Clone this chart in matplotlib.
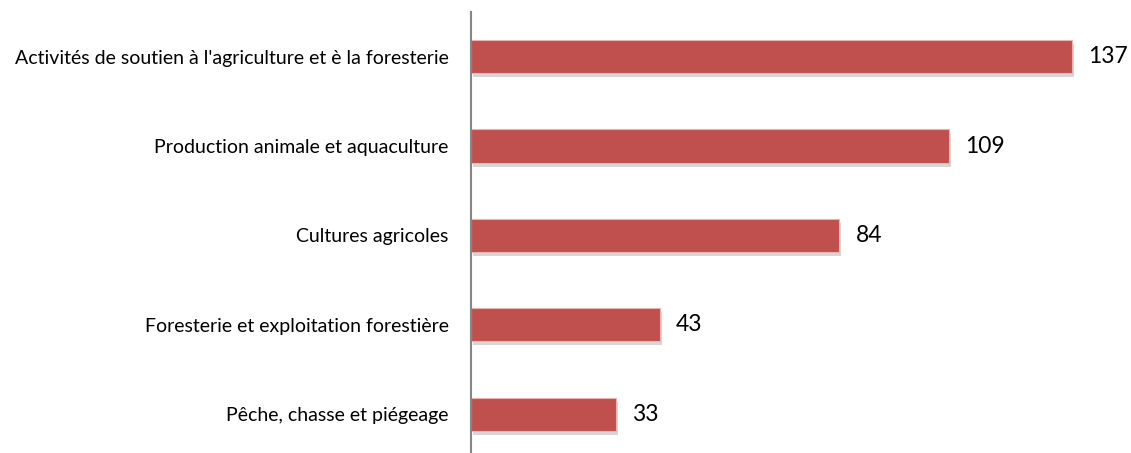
import matplotlib.pyplot as plt
import matplotlib.patheffects as pe

# Data
categories = [
    "Activités de soutien à l'agriculture et è la foresterie",
    "Production animale et aquaculture",
    "Cultures agricoles",
    "Foresterie et exploitation forestière",
    "Pêche, chasse et piégeage",
]
values = [137, 109, 84, 43, 33]

bar_color = '#C0504D'

fig = plt.figure(figsize=(11.31, 4.53), dpi=100)
ax = fig.add_axes([0.4164, 0.0, 0.5816, 0.9735])

pos = list(range(len(categories)))
bars = ax.barh(pos, values, height=0.37, color=bar_color,
               edgecolor='#E8B4B2', linewidth=0.8)
for b in bars:
    b.set_path_effects([pe.SimplePatchShadow(offset=(1.5, -3), shadow_rgbFace='#999999', alpha=0.4),
                        pe.Normal()])

for p, v in zip(pos, values):
    ax.annotate(str(v), (v, p), xytext=(12, 0), textcoords='offset points',
                va='center', ha='left', fontsize=16.5, family='Lato', color='black')

ax.set_xlim(0, 150)
ax.set_ylim(4.436, -0.5)
ax.set_yticks(pos)
ax.set_yticklabels(categories, family='Lato', fontsize=14)
ax.tick_params(axis='y', length=0, pad=16)
ax.set_xticks([])

for s in ['top', 'right', 'bottom']:
    ax.spines[s].set_visible(False)
ax.spines['left'].set_color('#868686')
ax.spines['left'].set_linewidth(1.5)

fig.savefig('out.png', dpi=100)
